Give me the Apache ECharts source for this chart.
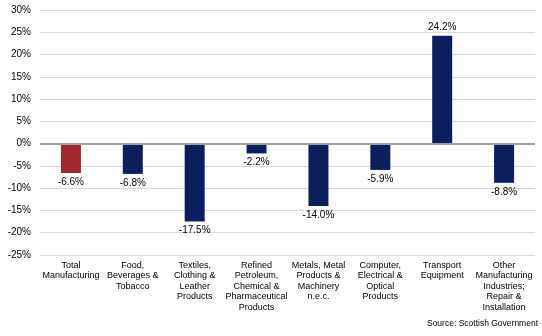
<!DOCTYPE html>
<html>
<head>
<meta charset="utf-8">
<script src="https://cdn.jsdelivr.net/npm/echarts@6/dist/echarts.min.js"></script>
<style>
  html, body { margin: 0; padding: 0; background: #fff; }
  #chart { width: 542px; height: 336px; }
</style>
</head>
<body>
<div id="chart"></div>
<script>
// Sectors and their percentage change
const categories = [
  'Total\nManufacturing',
  'Food,\nBeverages &\nTobacco',
  'Textiles,\nClothing &\nLeather\nProducts',
  'Refined\nPetroleum,\nChemical &\nPharmaceutical\nProducts',
  'Metals, Metal\nProducts &\nMachinery\nn.e.c.',
  'Computer,\nElectrical &\nOptical\nProducts',
  'Transport\nEquipment',
  'Other\nManufacturing\nIndustries;\nRepair &\nInstallation'
];
const changes = [-6.6, -6.8, -17.5, -2.2, -14.0, -5.9, 24.2, -8.8];
const highlightIndex = 0;
const sourceNote = 'Source: Scottish Government';

const font = 'Arial, "Liberation Sans", sans-serif';
const chart = echarts.init(document.getElementById('chart'), null, { renderer: 'canvas' });

chart.setOption({
  animation: false,
  textStyle: { fontFamily: font },
  grid: { left: 40, right: 7, top: 10, bottom: 81 },
  xAxis: {
    type: 'category',
    data: categories,
    axisLine: { show: false },
    axisTick: { show: false },
    axisLabel: {
      interval: 0,
      color: '#000',
      fontSize: 9,
      lineHeight: 10.5,
      margin: 5,
      fontFamily: font
    }
  },
  yAxis: {
    type: 'value',
    min: -25,
    max: 30,
    interval: 5,
    axisLine: { show: false },
    axisTick: { show: false },
    axisLabel: {
      formatter: v => v + '%',
      color: '#000',
      fontSize: 10,
      margin: 9,
      fontFamily: font
    },
    splitLine: { lineStyle: { color: '#d9d9d9', width: 1 } }
  },
  series: [{
    type: 'bar',
    data: changes.map((v, i) => ({
      value: v,
      itemStyle: { color: i === highlightIndex ? '#A1282A' : '#0B1F5C' },
      label: { position: v < 0 ? 'bottom' : 'top' }
    })),
    barWidth: 20,
    label: {
      show: true,
      formatter: p => p.value.toFixed(1) + '%',
      color: '#000',
      fontSize: 10,
      distance: 4,
      fontFamily: font
    },
    markLine: {
      silent: true,
      symbol: 'none',
      label: { show: false },
      lineStyle: { color: '#a0a0a0', width: 2, type: 'solid' },
      data: [{ yAxis: 0 }]
    }
  }],
  graphic: [{
    type: 'text',
    right: 4,
    top: 319,
    style: { text: sourceNote, fill: '#000', font: '8.5px ' + font }
  }]
});
</script>
</body>
</html>
